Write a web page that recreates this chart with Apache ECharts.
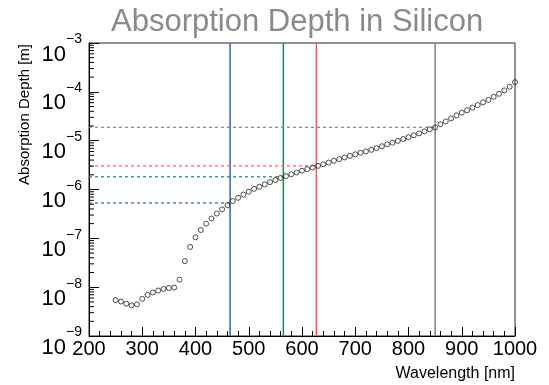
<!DOCTYPE html>
<html>
<head>
<meta charset="utf-8">
<script src="https://cdn.jsdelivr.net/npm/echarts@6/dist/echarts.min.js"></script>
<style>
  html, body { margin: 0; padding: 0; background: #fff; }
  #main { width: 549px; height: 385px; }
</style>
</head>
<body>
<div id="main"></div>
<script>
// wavelength [nm] of the measured points
var wavelengths = [250, 260, 270, 280, 290, 300, 310, 320, 330, 340, 350, 360, 370, 380, 390,
  400, 410, 420, 430, 440, 450, 460, 470, 480, 490, 500, 510, 520, 530, 540, 550, 560, 570, 580, 590,
  600, 610, 620, 630, 640, 650, 660, 670, 680, 690, 700, 710, 720, 730, 740, 750, 760, 770, 780, 790,
  800, 810, 820, 830, 840, 850, 860, 870, 880, 890, 900, 910, 920, 930, 940, 950, 960, 970, 980, 990, 1000];
// absorption depth [m]
var depths = [5.43e-9, 5.08e-9, 4.59e-9, 4.24e-9, 4.46e-9, 5.78e-9, 6.94e-9, 7.81e-9, 8.55e-9, 9.17e-9,
  9.62e-9, 9.80e-9, 1.43e-8, 3.41e-8, 6.67e-8,
  1.05e-7, 1.48e-7, 2.00e-7, 2.55e-7, 3.22e-7, 3.92e-7, 4.76e-7, 5.81e-7, 6.76e-7, 7.87e-7,
  9.01e-7, 1.03e-6, 1.14e-6, 1.27e-6, 1.42e-6, 1.56e-6, 1.73e-6, 1.88e-6, 2.05e-6, 2.23e-6,
  2.42e-6, 2.61e-6, 2.82e-6, 3.05e-6, 3.29e-6, 3.56e-6, 3.88e-6, 4.20e-6, 4.52e-6, 4.88e-6,
  5.26e-6, 5.65e-6, 6.02e-6, 6.49e-6, 7.04e-6, 7.69e-6, 8.40e-6, 9.09e-6, 9.90e-6, 1.08e-5,
  1.18e-5, 1.29e-5, 1.41e-5, 1.55e-5, 1.71e-5, 1.87e-5, 2.17e-5, 2.48e-5, 2.86e-5, 3.30e-5,
  3.73e-5, 4.20e-5, 4.75e-5, 5.36e-5, 6.10e-5, 6.85e-5, 7.90e-5, 9.10e-5, 1.07e-4, 1.27e-4, 1.58e-4];

// marker lines (wavelength, depth at that wavelength)
var lineWavelengths = [465, 565, 627, 850];
var lineDepths = [5.3e-7, 1.82e-6, 3.05e-6, 1.88e-5];
var lineColors = ['#2a67a8', '#1f8a4c', '#ff5555', '#808080'];

var xRange = [200, 1000];
var yRange = [1e-9, 1e-3];
// log minor ticks 2..9 per decade
var yMinorTicks = [2e-9, 3e-9, 4e-9, 5e-9, 6e-9, 7e-9, 8e-9, 9e-9,
  2e-8, 3e-8, 4e-8, 5e-8, 6e-8, 7e-8, 8e-8, 9e-8,
  2e-7, 3e-7, 4e-7, 5e-7, 6e-7, 7e-7, 8e-7, 9e-7,
  2e-6, 3e-6, 4e-6, 5e-6, 6e-6, 7e-6, 8e-6, 9e-6,
  2e-5, 3e-5, 4e-5, 5e-5, 6e-5, 7e-5, 8e-5, 9e-5,
  2e-4, 3e-4, 4e-4, 5e-4, 6e-4, 7e-4, 8e-4, 9e-4];

var FONT = '"Liberation Sans", Arial, Helvetica, sans-serif';

var series = [];

// colored lines: vertical + dashed horizontal
for (let i = 0; i < lineWavelengths.length; i++) {
  series.push({
    type: 'line',
    data: [[lineWavelengths[i], yRange[0]], [lineWavelengths[i], yRange[1]]],
    symbol: 'none',
    lineStyle: { color: lineColors[i], width: 1.5 },
    z: 2,
    silent: true
  });
  series.push({
    type: 'line',
    data: [[xRange[0], lineDepths[i]], [lineWavelengths[i], lineDepths[i]]],
    symbol: 'none',
    lineStyle: { color: lineColors[i], width: 1.2, type: [3, 3] },
    z: 2,
    silent: true
  });
}

// data points
series.push({
  type: 'scatter',
  data: wavelengths.map(function (w, i) { return [w, depths[i]]; }),
  symbol: 'circle',
  symbolSize: 5,
  itemStyle: { color: 'rgba(0,0,0,0)', borderColor: '#222', borderWidth: 1 },
  z: 5
});

// minor ticks on the log axis
series.push({
  type: 'custom',
  data: yMinorTicks.map(function (v) { return [xRange[0], v]; }),
  renderItem: function (params, api) {
    var p = api.coord([api.value(0), api.value(1)]);
    return {
      type: 'line',
      shape: { x1: p[0], y1: p[1], x2: p[0] + 5, y2: p[1] },
      style: { stroke: '#000', lineWidth: 1 }
    };
  },
  z: 6,
  silent: true
});

var chart = echarts.init(document.getElementById('main'));
chart.setOption({
  animation: false,
  backgroundColor: '#fff',
  title: {
    text: 'Absorption Depth in Silicon',
    left: 111,
    top: 7,
    padding: 0,
    textStyle: { fontSize: 31, fontWeight: 'normal', color: '#8a8a8a', fontFamily: FONT }
  },
  grid: {
    left: 89, right: 34, top: 43, bottom: 49,
    show: true, borderColor: '#222', borderWidth: 1
  },
  xAxis: {
    type: 'value',
    min: xRange[0],
    max: xRange[1],
    interval: 100,
    axisLine: { lineStyle: { color: '#000', width: 1 } },
    axisTick: { inside: true, length: 9, lineStyle: { color: '#000' } },
    minorTick: { show: true, splitNumber: 5, length: 5, lineStyle: { color: '#000' } },
    splitLine: { show: false },
    axisLabel: {
      fontSize: 20, color: '#000', margin: 3, fontFamily: FONT,
      formatter: function (v) { return String(v); }
    }
  },
  yAxis: {
    type: 'log',
    logBase: 10,
    min: yRange[0],
    max: yRange[1],
    splitNumber: 6,
    axisLine: { show: true, lineStyle: { color: '#000', width: 1 } },
    axisTick: { inside: true, length: 10, lineStyle: { color: '#000' } },
    splitLine: { show: false },
    axisLabel: {
      margin: 7,
      padding: [12, 0, 0, 0],
      formatter: function (v) {
        var e = Math.round(Math.log10(v));
        return '{b|10}{s|' + (e < 0 ? '\u2212' : '') + Math.abs(e) + '}';
      },
      rich: {
        b: { fontSize: 22, lineHeight: 33, verticalAlign: 'bottom', color: '#000', fontFamily: FONT },
        s: { fontSize: 14, lineHeight: 18, verticalAlign: 'top', color: '#000', fontFamily: FONT }
      }
    }
  },
  graphic: [
    {
      type: 'text',
      right: 34,
      top: 366,
      style: { text: 'Wavelength [nm]', fontSize: 16, fill: '#000', fontFamily: FONT }
    },
    {
      type: 'text',
      x: 25,
      y: 44,
      rotation: Math.PI / 2,
      style: {
        text: 'Absorption Depth [m]', fontSize: 15, fill: '#000', fontFamily: FONT,
        align: 'right', verticalAlign: 'middle'
      }
    }
  ],
  series: series
});
</script>
</body>
</html>
